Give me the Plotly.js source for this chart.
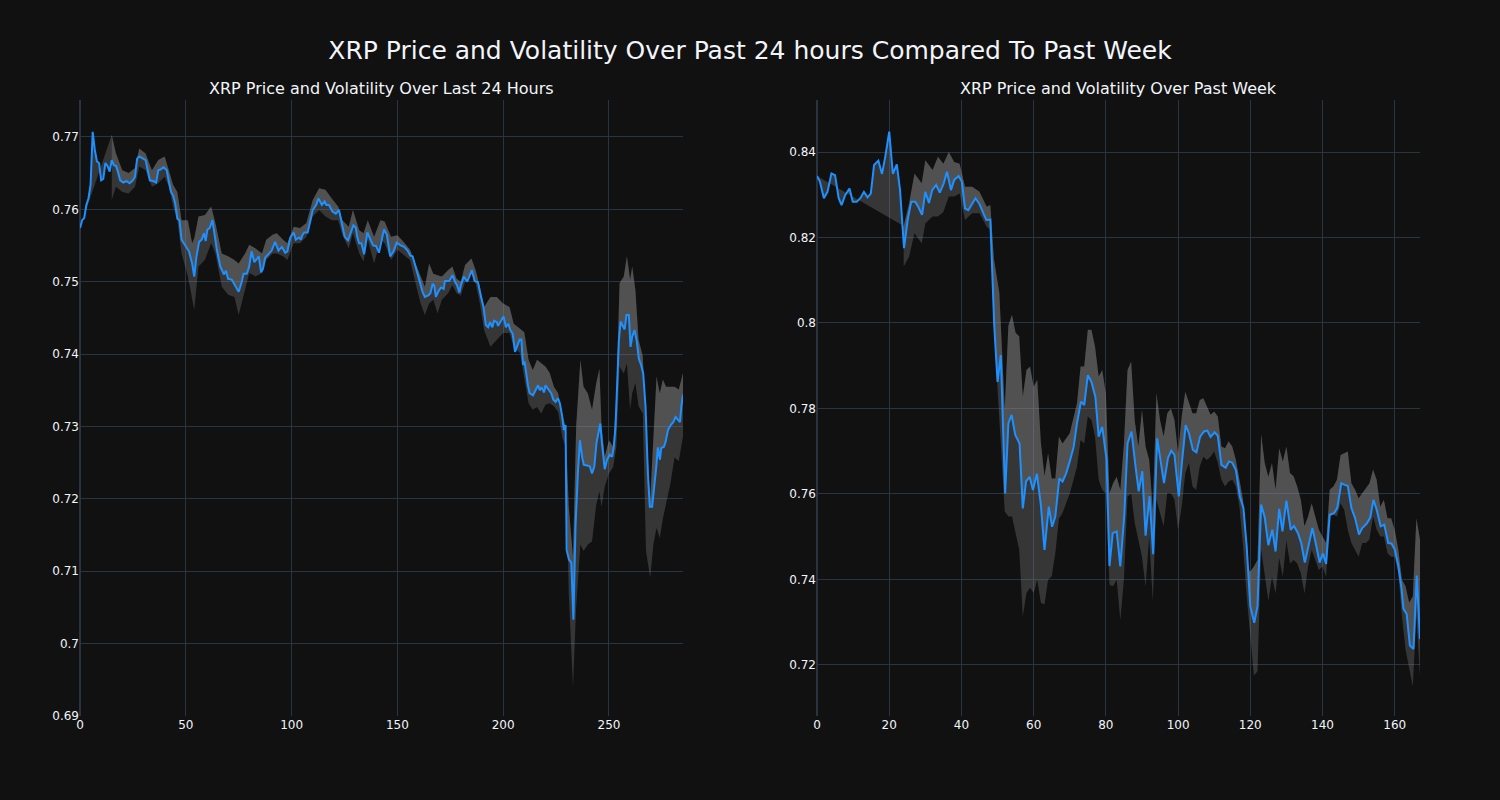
<!DOCTYPE html>
<html>
<head>
<meta charset="utf-8">
<script src="https://cdn.plot.ly/plotly-3.0.1.min.js"></script>
<style>html,body{margin:0;padding:0;background:#111111;}</style>
</head>
<body>
<div id="chart" style="width:1500px;height:800px;"></div>
<script>
// ---------- Last 24 hours ----------
const dayX = [0,1,2,3,4,5,6,7,8,9,10,11,12,13,14,15,16,17,18,19,20.5,22,23.5,25,26,27,28,29.5,31,32,33,34.5,36,37,38,39.5,41,42,43,44,45,46,47,48,50,51.5,53,54,55,56.3,57.5,58.6,59.4,60.2,61.3,62.6,63.6,64.7,66.3,68,69,70,71.7,73,75,76.2,77.3,78.8,79.9,81.1,82.4,83.5,84.5,85.6,86.5,87.5,89,90.6,92.2,93.8,95.4,97,98,99.4,101,102,103.6,104.4,105.2,106,107.6,108.9,110,111.6,112.7,114.3,115.6,116.4,117.7,119.3,120.9,122.4,124,125.1,126.7,127.9,129.2,130.3,131,131.9,133,134.3,135.8,137,138.5,140,141.3,142.9,143.7,145,146.6,148.2,149.7,151.6,153.2,154.8,156.1,157.2,158.7,160.3,161.9,163,164.6,165.6,166.7,167.4,168.2,169.3,170.6,171.9,172.5,174.5,176.1,177.2,178.1,179.3,180.1,181.4,183,184,185.2,186.5,188.1,189.6,190.7,191.8,192.9,193.8,194.9,195.7,197,197.6,198.9,200.2,201.3,202.4,203.4,204.5,205.6,206.6,207.8,208.6,209.4,210.1,210.9,211.7,212.5,214.1,215.3,216.5,217.3,218.1,219.4,220,221.2,222.7,223.7,224.8,225.9,226.8,227.9,228.7,229.5,230,231.1,232.2,233.2,234.2,235.3,236.3,237.3,238.1,239.7,240.9,242,243.1,244.1,245.1,245.9,246.7,248,249.1,250.4,251.5,252.3,253.1,253.9,254.7,255.5,256.8,257.4,258.3,259.4,260.2,261,262.1,263.1,264.1,265.2,266.2,267.3,268.4,269.3,270.4,271.5,272.4,273.1,274.1,274.7,276,276.8,277.9,279.2,280.4,281.5,282.6,283.6,284.2,285];
const dayPrice = [0.7574,0.7585,0.7588,0.7606,0.7615,0.7634,0.7707,0.7682,0.7666,0.7664,0.7640,0.7642,0.7664,0.7660,0.7652,0.7668,0.7661,0.7660,0.7651,0.7640,0.7637,0.7639,0.7636,0.7640,0.7645,0.7670,0.7673,0.7671,0.7668,0.7654,0.7640,0.7639,0.7637,0.7654,0.7655,0.7658,0.7654,0.7638,0.7624,0.7619,0.7608,0.7587,0.7585,0.7558,0.7548,0.7542,0.7525,0.7507,0.7534,0.7555,0.7558,0.7567,0.7556,0.7572,0.7574,0.7585,0.7565,0.7544,0.7521,0.7510,0.7515,0.7504,0.7503,0.7497,0.7486,0.7497,0.7511,0.7511,0.7520,0.7542,0.7527,0.7531,0.7535,0.7513,0.7518,0.7533,0.7538,0.7543,0.7555,0.7543,0.7548,0.7540,0.7542,0.7561,0.7568,0.7558,0.7561,0.7558,0.7565,0.7568,0.7568,0.7585,0.7599,0.7606,0.7615,0.7606,0.7611,0.7606,0.7606,0.7597,0.7594,0.7599,0.7574,0.7562,0.7557,0.7566,0.7578,0.7575,0.7562,0.7553,0.7553,0.7538,0.7568,0.7560,0.7550,0.7549,0.7540,0.7562,0.7572,0.7565,0.7535,0.7542,0.7554,0.7550,0.7548,0.7543,0.7536,0.7535,0.7519,0.7505,0.7486,0.7479,0.7481,0.7484,0.7497,0.7495,0.7479,0.7486,0.7492,0.7490,0.7501,0.7501,0.7509,0.7500,0.7496,0.7485,0.7496,0.7507,0.7500,0.7507,0.7516,0.7501,0.7499,0.7478,0.7465,0.7440,0.7437,0.7444,0.7437,0.7446,0.7444,0.7439,0.7446,0.7452,0.7437,0.7442,0.7433,0.7428,0.7403,0.7410,0.7420,0.7420,0.7385,0.7390,0.7371,0.7357,0.7346,0.7343,0.7350,0.7357,0.7350,0.7354,0.7347,0.7357,0.7352,0.7346,0.7337,0.7334,0.7339,0.7332,0.7314,0.7295,0.7302,0.7129,0.7116,0.7112,0.7033,0.7162,0.7235,0.7281,0.7258,0.7247,0.7246,0.7245,0.7235,0.7245,0.7277,0.7291,0.7304,0.7277,0.7241,0.7254,0.7261,0.7258,0.7272,0.7300,0.7373,0.7419,0.7445,0.7438,0.7434,0.7454,0.7454,0.7410,0.7424,0.7433,0.7419,0.7394,0.7385,0.7373,0.7327,0.7235,0.7189,0.7189,0.7217,0.7245,0.7271,0.7254,0.7270,0.7272,0.7279,0.7295,0.7302,0.7306,0.7313,0.7309,0.7306,0.7327,0.7344];
const dayBandX = [15,17,20,23,26,28,31,34,37,40,42,44,46,48,51,53,54,56,59,62,64,67,70,73,75,78,80,83,86,88,91,93,96,98,101,104,107,110,113,116,119,122,124,127,129,132,134,136,139,142,144,147,150,153,156,159,161,163,165,167,169,171,174,176,178,180,182,185,187,189,191,194,197,200,203,205,208,210,212,214,216,218,220,222,224,226,228,229.5,231,233,234.5,236.5,238,240,242,244,245.5,246.5,248,250,252,253.5,255,257,258.5,260,261,262.5,264,266,267.5,269.5,271,272.5,274,275.5,277,279,281,283,285];
const dayUpper = [0.7703,0.7677,0.7654,0.7650,0.7657,0.7684,0.7677,0.7654,0.7668,0.7673,0.7654,0.7634,0.7624,0.7585,0.7585,0.7553,0.7560,0.7590,0.7592,0.7604,0.7581,0.7539,0.7535,0.7530,0.7525,0.7539,0.7551,0.7546,0.7539,0.7558,0.7565,0.7567,0.7558,0.7553,0.7576,0.7574,0.7581,0.7613,0.7629,0.7627,0.7615,0.7604,0.7585,0.7576,0.7599,0.7571,0.7567,0.7585,0.7562,0.7585,0.7583,0.7562,0.7564,0.7555,0.7544,0.7521,0.7507,0.7493,0.7525,0.7511,0.7509,0.7507,0.7516,0.7521,0.7504,0.7500,0.7523,0.7532,0.7516,0.7493,0.7465,0.7479,0.7479,0.7470,0.7465,0.7442,0.7435,0.7430,0.7392,0.7378,0.7392,0.7387,0.7383,0.7374,0.7355,0.7346,0.7315,0.7300,0.7190,0.7120,0.7300,0.7392,0.7355,0.7346,0.7323,0.7360,0.7380,0.7300,0.7258,0.7281,0.7272,0.7341,0.7498,0.7507,0.7535,0.7503,0.7521,0.7489,0.7420,0.7397,0.7300,0.7199,0.7286,0.7369,0.7346,0.7365,0.7355,0.7355,0.7355,0.7351,0.7374];
const dayLower = [0.7613,0.7631,0.7624,0.7622,0.7631,0.7659,0.7654,0.7631,0.7636,0.7645,0.7631,0.7604,0.7585,0.7539,0.7507,0.7475,0.7461,0.7521,0.7530,0.7553,0.7539,0.7493,0.7482,0.7479,0.7454,0.7489,0.7512,0.7507,0.7512,0.7530,0.7539,0.7539,0.7535,0.7530,0.7553,0.7553,0.7562,0.7590,0.7599,0.7590,0.7585,0.7585,0.7565,0.7546,0.7567,0.7539,0.7528,0.7558,0.7525,0.7558,0.7553,0.7530,0.7544,0.7537,0.7530,0.7493,0.7470,0.7454,0.7470,0.7475,0.7456,0.7475,0.7484,0.7495,0.7484,0.7481,0.7500,0.7512,0.7498,0.7470,0.7433,0.7410,0.7420,0.7429,0.7429,0.7410,0.7401,0.7369,0.7332,0.7323,0.7327,0.7318,0.7330,0.7332,0.7328,0.7320,0.7284,0.7272,0.7070,0.6940,0.7050,0.7137,0.7128,0.7137,0.7141,0.7192,0.7210,0.7189,0.7217,0.7235,0.7244,0.7272,0.7383,0.7373,0.7387,0.7323,0.7346,0.7360,0.7328,0.7318,0.7128,0.7091,0.7137,0.7160,0.7146,0.7173,0.7192,0.7220,0.7257,0.7252,0.7286];

// ---------- Past week ----------
const weekX = [0,0.8,1.9,2.9,4,5,6,6.8,7.8,9,9.9,11,12,13,14,14.9,15.8,17,18,18.9,20,21,22.1,23,24.1,25.1,26.1,27.2,28.1,29.1,30,31,31.9,33,34,35.1,36,37.1,38,39.2,40.1,41,41.9,43,43.9,44.9,45.8,46.9,48,49.1,50,50.9,52.1,53,53.9,54.9,56.1,57,57.9,58.9,59.8,60.9,62,63,64.2,65.1,66,67.1,68,69,70,71.1,72,73.1,74,75,76,77.1,78,79,80.2,81,81.9,83,84,85.1,86,87.1,88.2,89.1,90.1,91,92.1,93.1,94.2,95.1,96.1,97.2,98.1,99,100.2,101.1,102.1,103,104.1,105.1,106.1,107.2,108.1,109,110.1,111,112,113.2,114.1,115,116,117.1,118.1,119,120,121.1,122,123,124,125,126.1,127,128,128.9,130,131.2,132.1,133.2,134.1,135.1,136.1,137.2,138.1,139.2,140.1,141,142,143.2,144.1,145.2,146.1,147,148,149,150.1,151,152.2,153.2,154.1,155,156.1,157.1,158.2,159.1,160,161,161.9,162.4,163.3,164.2,165.2,166.1,167];
const weekPrice = [0.8344,0.8331,0.8292,0.8307,0.8350,0.8346,0.8292,0.8276,0.8299,0.8315,0.8284,0.8284,0.8292,0.8307,0.8294,0.8303,0.8370,0.8380,0.8349,0.8389,0.8448,0.8349,0.8371,0.8311,0.8175,0.8241,0.8284,0.8284,0.8271,0.8253,0.8307,0.8281,0.8311,0.8323,0.8305,0.8327,0.8354,0.8311,0.8335,0.8344,0.8331,0.8268,0.8264,0.8280,0.8292,0.8280,0.8264,0.8241,0.8242,0.7991,0.7862,0.7925,0.7601,0.7765,0.7785,0.7738,0.7718,0.7566,0.7629,0.7640,0.7609,0.7647,0.7574,0.7469,0.7570,0.7523,0.7547,0.7636,0.7629,0.7648,0.7676,0.7711,0.7765,0.7816,0.7808,0.7878,0.7862,0.7827,0.7734,0.7757,0.7680,0.7431,0.7508,0.7512,0.7430,0.7550,0.7718,0.7746,0.7665,0.7606,0.7653,0.7502,0.7595,0.7459,0.7730,0.7680,0.7625,0.7684,0.7701,0.7691,0.7594,0.7676,0.7761,0.7742,0.7703,0.7697,0.7734,0.7746,0.7748,0.7733,0.7744,0.7736,0.7668,0.7661,0.7676,0.7673,0.7656,0.7594,0.7567,0.7477,0.7337,0.7298,0.7337,0.7575,0.7545,0.7480,0.7516,0.7465,0.7565,0.7512,0.7584,0.7516,0.7525,0.7508,0.7485,0.7439,0.7477,0.7520,0.7485,0.7439,0.7461,0.7436,0.7551,0.7555,0.7567,0.7625,0.7621,0.7619,0.7567,0.7544,0.7505,0.7520,0.7530,0.7544,0.7586,0.7563,0.7524,0.7528,0.7485,0.7484,0.7470,0.7431,0.7377,0.7331,0.7319,0.7245,0.7237,0.7409,0.7260];
const weekBandX = [24,25.5,27,29,30,32,33.5,35,36.5,38,39.5,41,43,45,47,48,49,50.5,52,53,54,55,56,57,58,59,60,61,62,63,64,65,66,67,68,70,72,73,74,75,76,77,78,79,80,81,82,83,84,85,86,87,88,89,90,91,92,93,94,95,96,97,98,99,100,101,102,103,104,105,106,107,108,109,110,111,112,113,114,115,116,117,118,119,120,121,122,123,124,125,126,127,128,129,130,131,132,133,134,135,136,137,138,139,140,141,142,143,144,145,146,147,148,149,150,151,152,153,154,155,156,157,158,159,160,161,162,163,164,165,166,167];
const weekUpper = [0.8227,0.8280,0.8350,0.8327,0.8381,0.8358,0.8389,0.8373,0.8400,0.8377,0.8373,0.8319,0.8319,0.8307,0.8272,0.8276,0.8150,0.8070,0.7800,0.7994,0.8019,0.7977,0.7969,0.7828,0.7890,0.7898,0.7851,0.7867,0.7720,0.7642,0.7695,0.7636,0.7636,0.7734,0.7718,0.7742,0.7812,0.7898,0.7898,0.7984,0.7984,0.7945,0.7875,0.7890,0.7835,0.7601,0.7625,0.7640,0.7609,0.7718,0.7890,0.7910,0.7771,0.7711,0.7797,0.7711,0.7680,0.7563,0.7836,0.7773,0.7734,0.7789,0.7800,0.7773,0.7695,0.7781,0.7839,0.7812,0.7789,0.7789,0.7820,0.7824,0.7804,0.7785,0.7793,0.7781,0.7711,0.7707,0.7723,0.7711,0.7680,0.7633,0.7586,0.7430,0.7418,0.7430,0.7446,0.7740,0.7672,0.7640,0.7672,0.7610,0.7707,0.7676,0.7711,0.7649,0.7641,0.7617,0.7586,0.7524,0.7547,0.7578,0.7547,0.7516,0.7500,0.7485,0.7610,0.7617,0.7633,0.7691,0.7695,0.7699,0.7625,0.7610,0.7590,0.7602,0.7614,0.7625,0.7657,0.7633,0.7570,0.7586,0.7543,0.7543,0.7516,0.7469,0.7399,0.7384,0.7345,0.7360,0.7543,0.7493];
const weekLower = [0.8132,0.8155,0.8210,0.8186,0.8233,0.8249,0.8249,0.8260,0.8296,0.8296,0.8303,0.8241,0.8257,0.8257,0.8225,0.8218,0.7990,0.7773,0.7559,0.7547,0.7547,0.7508,0.7470,0.7313,0.7368,0.7380,0.7368,0.7399,0.7345,0.7341,0.7399,0.7407,0.7461,0.7542,0.7555,0.7601,0.7663,0.7726,0.7718,0.7781,0.7773,0.7734,0.7633,0.7609,0.7601,0.7387,0.7384,0.7399,0.7305,0.7399,0.7594,0.7600,0.7532,0.7492,0.7453,0.7383,0.7500,0.7348,0.7586,0.7555,0.7524,0.7602,0.7602,0.7586,0.7516,0.7570,0.7648,0.7672,0.7617,0.7609,0.7664,0.7687,0.7679,0.7687,0.7699,0.7672,0.7633,0.7617,0.7629,0.7633,0.7617,0.7570,0.7477,0.7360,0.7274,0.7175,0.7185,0.7470,0.7410,0.7350,0.7406,0.7367,0.7450,0.7406,0.7490,0.7437,0.7445,0.7437,0.7414,0.7367,0.7430,0.7469,0.7445,0.7422,0.7430,0.7406,0.7547,0.7551,0.7547,0.7578,0.7563,0.7516,0.7485,0.7469,0.7453,0.7485,0.7485,0.7493,0.7547,0.7516,0.7500,0.7500,0.7461,0.7453,0.7453,0.7414,0.7313,0.7235,0.7188,0.7149,0.7313,0.7172];

const xTicksDay = [0,50,100,150,200,250];
const xTicksWeek = [0,20,40,60,80,100,120,140,160];
const mainTitle = 'XRP Price and Volatility Over Past 24 hours Compared To Past Week';
const subTitles = ['XRP Price and Volatility Over Last 24 Hours', 'XRP Price and Volatility Over Past Week'];

const FILL = 'rgba(150,150,150,0.28)';
const BLUE = 'dodgerblue';

function group(xa, ya, px, py, bx, bu, bl) {
  const common = {xaxis: xa, yaxis: ya, mode: 'lines', hoverinfo: 'skip', showlegend: false};
  return [
    Object.assign({}, common, {x: bx, y: bu, line: {color: 'rgba(0,0,0,0)', width: 0}}),
    Object.assign({}, common, {x: bx, y: bl, line: {color: 'rgba(0,0,0,0)', width: 0}, fill: 'tonexty', fillcolor: FILL}),
    Object.assign({}, common, {x: bx, y: bu, line: {color: 'rgba(0,0,0,0)', width: 0}}),
    Object.assign({}, common, {x: px, y: py, line: {color: BLUE, width: 2}, fill: 'tonexty', fillcolor: FILL})
  ];
}

const data = [].concat(
  group('x', 'y', dayX, dayPrice, dayBandX, dayUpper, dayLower),
  group('x2', 'y2', weekX, weekPrice, weekBandX, weekUpper, weekLower)
);

const axisStyle = {
  gridcolor: '#283442', zerolinecolor: '#283442', zerolinewidth: 2,
  linecolor: '#506784', showline: false, ticks: '',
  tickfont: {size: 12, color: '#f2f5fa'}
};

const layout = {
  width: 1500, height: 800,
  paper_bgcolor: '#111111', plot_bgcolor: '#111111',
  font: {family: 'DejaVu Sans, sans-serif', color: '#f2f5fa', size: 12},
  title: {text: mainTitle, x: 0.5, xanchor: 'center', xref: 'container', y: 0.9375, yanchor: 'middle', yref: 'container', font: {size: 25, color: '#f2f5fa'}},
  margin: {l: 80, r: 80, t: 100, b: 84},
  showlegend: false,
  xaxis: Object.assign({}, axisStyle, {domain: [0, 0.45], range: [0, 285], tickvals: xTicksDay, anchor: 'y'}),
  yaxis: Object.assign({}, axisStyle, {domain: [0, 1], range: [0.69, 0.7751], dtick: 0.01, tick0: 0.69, anchor: 'x'}),
  xaxis2: Object.assign({}, axisStyle, {domain: [0.55, 1], range: [0, 167], tickvals: xTicksWeek, anchor: 'y2'}),
  yaxis2: Object.assign({}, axisStyle, {domain: [0, 1], range: [0.708, 0.8522], dtick: 0.02, tick0: 0.72, anchor: 'x2'}),
  annotations: [
    {text: subTitles[0], x: 0.225, y: 1, xref: 'paper', yref: 'paper', xanchor: 'center', yanchor: 'bottom', showarrow: false, font: {size: 16, color: '#f2f5fa'}},
    {text: subTitles[1], x: 0.775, y: 1, xref: 'paper', yref: 'paper', xanchor: 'center', yanchor: 'bottom', showarrow: false, font: {size: 16, color: '#f2f5fa'}}
  ]
};

Plotly.newPlot('chart', data, layout, {displayModeBar: false, staticPlot: true});
</script>
</body>
</html>
